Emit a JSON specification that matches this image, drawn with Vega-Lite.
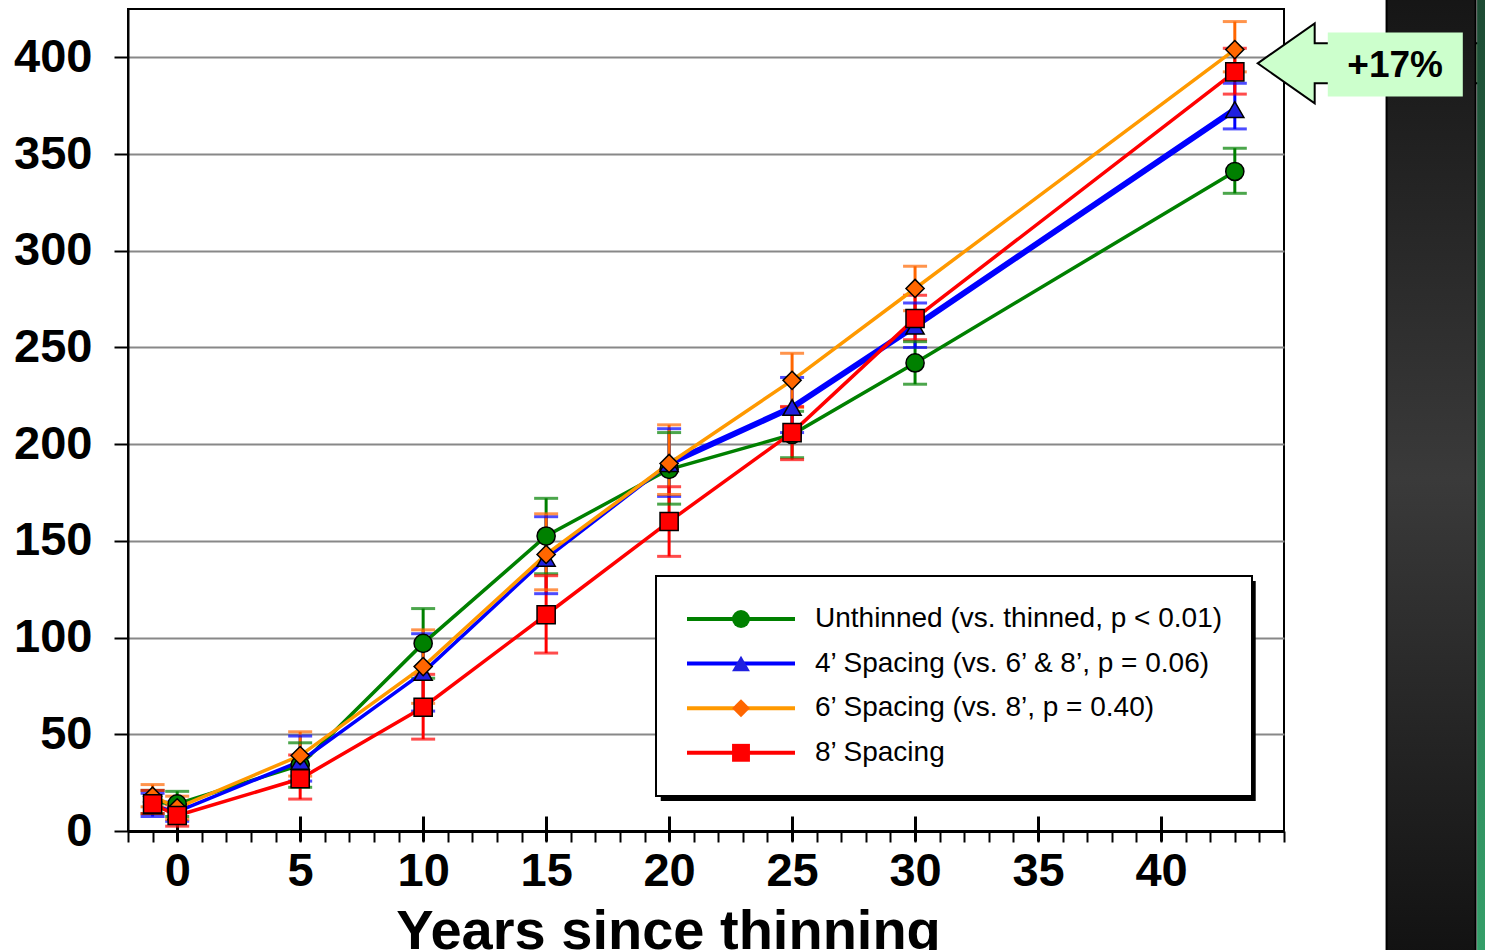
{
  "$schema": "https://vega.github.io/schema/vega-lite/v6.json",
  "width": 1156,
  "height": 822,
  "autosize": {"type": "none"},
  "padding": {"left": 128, "top": 9, "right": 201, "bottom": 119},
  "background": "white",
  "config": {
    "font": "Liberation Sans",
    "view": {"stroke": "black", "strokeWidth": 2},
    "axis": {"labelFont": "Liberation Sans", "titleFont": "Liberation Sans"},
    "legend": {"labelFont": "Liberation Sans"}
  },
  "datasets": {
    "growth": [
      {"series": "Unthinned (vs. thinned, p < 0.01)", "Year": -1, "value": 15, "lo": 9, "hi": 21},
      {"series": "Unthinned (vs. thinned, p < 0.01)", "Year": 0, "value": 14, "lo": 7.5, "hi": 20.5},
      {"series": "Unthinned (vs. thinned, p < 0.01)", "Year": 5, "value": 34, "lo": 22.6, "hi": 45.6},
      {"series": "Unthinned (vs. thinned, p < 0.01)", "Year": 10, "value": 97, "lo": 79, "hi": 115},
      {"series": "Unthinned (vs. thinned, p < 0.01)", "Year": 15, "value": 152.5, "lo": 133, "hi": 172},
      {"series": "Unthinned (vs. thinned, p < 0.01)", "Year": 20, "value": 187, "lo": 169, "hi": 206},
      {"series": "Unthinned (vs. thinned, p < 0.01)", "Year": 25, "value": 205, "lo": 193, "hi": 217},
      {"series": "Unthinned (vs. thinned, p < 0.01)", "Year": 30, "value": 242, "lo": 231, "hi": 253},
      {"series": "Unthinned (vs. thinned, p < 0.01)", "Year": 43, "value": 341, "lo": 329.7, "hi": 353},
      {"series": "4’ Spacing (vs. 6’ & 8’, p = 0.06)", "Year": -1, "value": 13, "lo": 7.5, "hi": 19.5},
      {"series": "4’ Spacing (vs. 6’ & 8’, p = 0.06)", "Year": 0, "value": 10, "lo": 5, "hi": 15},
      {"series": "4’ Spacing (vs. 6’ & 8’, p = 0.06)", "Year": 5, "value": 36, "lo": 25.8, "hi": 49.1},
      {"series": "4’ Spacing (vs. 6’ & 8’, p = 0.06)", "Year": 10, "value": 82, "lo": 62, "hi": 102},
      {"series": "4’ Spacing (vs. 6’ & 8’, p = 0.06)", "Year": 15, "value": 141, "lo": 122.7, "hi": 162.5},
      {"series": "4’ Spacing (vs. 6’ & 8’, p = 0.06)", "Year": 20, "value": 190, "lo": 173, "hi": 208},
      {"series": "4’ Spacing (vs. 6’ & 8’, p = 0.06)", "Year": 25, "value": 219, "lo": 206, "hi": 234.5},
      {"series": "4’ Spacing (vs. 6’ & 8’, p = 0.06)", "Year": 30, "value": 261, "lo": 250, "hi": 273},
      {"series": "4’ Spacing (vs. 6’ & 8’, p = 0.06)", "Year": 43, "value": 373, "lo": 363, "hi": 386.6},
      {"series": "6’ Spacing (vs. 8’, p = 0.40)", "Year": -1, "value": 18, "lo": 12.5, "hi": 24},
      {"series": "6’ Spacing (vs. 8’, p = 0.40)", "Year": 0, "value": 12, "lo": 6, "hi": 18},
      {"series": "6’ Spacing (vs. 8’, p = 0.40)", "Year": 5, "value": 39, "lo": 28.4, "hi": 51.3},
      {"series": "6’ Spacing (vs. 8’, p = 0.40)", "Year": 10, "value": 85, "lo": 66, "hi": 104},
      {"series": "6’ Spacing (vs. 8’, p = 0.40)", "Year": 15, "value": 143, "lo": 124.7, "hi": 164},
      {"series": "6’ Spacing (vs. 8’, p = 0.40)", "Year": 20, "value": 190, "lo": 174, "hi": 210},
      {"series": "6’ Spacing (vs. 8’, p = 0.40)", "Year": 25, "value": 233, "lo": 219, "hi": 247},
      {"series": "6’ Spacing (vs. 8’, p = 0.40)", "Year": 30, "value": 280.5, "lo": 269, "hi": 292},
      {"series": "6’ Spacing (vs. 8’, p = 0.40)", "Year": 43, "value": 404, "lo": 392.5, "hi": 418.5},
      {"series": "8’ Spacing", "Year": -1, "value": 14, "lo": 9, "hi": 21},
      {"series": "8’ Spacing", "Year": 0, "value": 8, "lo": 2.5, "hi": 13.5},
      {"series": "8’ Spacing", "Year": 5, "value": 27, "lo": 16.5, "hi": 39.3},
      {"series": "8’ Spacing", "Year": 10, "value": 64, "lo": 47.5, "hi": 81},
      {"series": "8’ Spacing", "Year": 15, "value": 111.8, "lo": 92, "hi": 132},
      {"series": "8’ Spacing", "Year": 20, "value": 160, "lo": 142, "hi": 178},
      {"series": "8’ Spacing", "Year": 25, "value": 206, "lo": 192, "hi": 219.5},
      {"series": "8’ Spacing", "Year": 30, "value": 265, "lo": 254, "hi": 277},
      {"series": "8’ Spacing", "Year": 43, "value": 392.5, "lo": 381, "hi": 404.7}
    ]
  },
  "data": {"name": "growth"},
  "layer": [
    {
      "data": {"values": [{}]},
      "mark": {"type": "rect", "fill": "black"},
      "encoding": {
        "x": {"datum": 19.66, "type": "quantitative", "scale": {"domain": [-2, 45], "nice": false, "zero": false}, "axis": null},
        "x2": {"datum": 43.85},
        "y": {"datum": 129.26, "type": "quantitative", "scale": {"domain": [0, 425], "nice": false, "zero": false},
          "axis": {"orient": "left", "values": [0, 50, 100, 150, 200, 250, 300, 350, 400], "grid": true, "gridColor": "#888888", "gridWidth": 2, "domain": true, "domainColor": "black", "domainWidth": 2, "ticks": true, "tickSize": 14, "tickWidth": 2, "tickColor": "black", "labelFontSize": 47, "labelFontWeight": "bold", "labelColor": "black", "labelPadding": 22, "labelFlush": false, "labelOverlap": false, "title": null}},
        "y2": {"datum": 15.5}
      }
    },
    {
      "mark": {"type": "rule", "strokeWidth": 3},
      "encoding": {
        "x": {"field": "Year", "type": "quantitative", "scale": {"domain": [-2, 45], "nice": false, "zero": false}, "axis": null},
        "y": {"field": "lo", "type": "quantitative", "scale": {"domain": [0, 425], "nice": false, "zero": false}, "axis": null},
        "y2": {"field": "hi"},
        "color": {"field": "series", "type": "nominal",
          "scale": {"domain": ["Unthinned (vs. thinned, p < 0.01)", "4’ Spacing (vs. 6’ & 8’, p = 0.06)", "6’ Spacing (vs. 8’, p = 0.40)", "8’ Spacing"], "range": ["#008000", "#0000FF", "#FF6600", "#FF0000"]},
          "legend": null}
      }
    },
    {
      "mark": {"type": "tick", "orient": "horizontal", "size": 24, "thickness": 3},
      "encoding": {
        "x": {"field": "Year", "type": "quantitative", "scale": {"domain": [-2, 45], "nice": false, "zero": false}, "axis": null},
        "y": {"field": "lo", "type": "quantitative", "scale": {"domain": [0, 425], "nice": false, "zero": false}, "axis": null},
        "color": {"field": "series", "type": "nominal", "legend": null}
      }
    },
    {
      "mark": {"type": "tick", "orient": "horizontal", "size": 24, "thickness": 3},
      "encoding": {
        "x": {"field": "Year", "type": "quantitative", "scale": {"domain": [-2, 45], "nice": false, "zero": false}, "axis": null},
        "y": {"field": "hi", "type": "quantitative", "scale": {"domain": [0, 425], "nice": false, "zero": false}, "axis": null},
        "color": {"field": "series", "type": "nominal", "legend": null}
      }
    },
    {
      "transform": [{"filter": {"field": "series", "oneOf": ["Unthinned (vs. thinned, p < 0.01)", "4’ Spacing (vs. 6’ & 8’, p = 0.06)"]}}],
      "mark": {"type": "line", "strokeWidth": 3.5},
      "encoding": {
        "x": {"field": "Year", "type": "quantitative", "scale": {"domain": [-2, 45], "nice": false, "zero": false},
          "axis": {"orient": "bottom", "values": [-2, -1, 0, 1, 2, 3, 4, 5, 6, 7, 8, 9, 10, 11, 12, 13, 14, 15, 16, 17, 18, 19, 20, 21, 22, 23, 24, 25, 26, 27, 28, 29, 30, 31, 32, 33, 34, 35, 36, 37, 38, 39, 40, 41, 42, 43, 44, 45], "tickSize": 11, "tickWidth": 2, "tickColor": "black", "labels": false, "domain": true, "domainColor": "black", "domainWidth": 3, "grid": false, "title": null}},
        "y": {"field": "value", "type": "quantitative", "scale": {"domain": [0, 425], "nice": false, "zero": false}, "axis": null},
        "stroke": {"field": "series", "type": "nominal",
          "scale": {"domain": ["Unthinned (vs. thinned, p < 0.01)", "4’ Spacing (vs. 6’ & 8’, p = 0.06)", "6’ Spacing (vs. 8’, p = 0.40)", "8’ Spacing"], "range": ["#008000", "#0000FF", "#FF9900", "#FF0000"]},
          "legend": {"orient": "none", "legendX": 528, "legendY": 567, "title": null, "padding": 29, "symbolType": "stroke", "symbolSize": 11664, "symbolStrokeWidth": 4, "labelFontSize": 28, "labelColor": "black", "labelOffset": 18, "labelLimit": 800, "rowPadding": 16.6, "fillColor": "white", "strokeColor": "black",
            "encode": {"legend": {"update": {"strokeWidth": {"value": 2}}}, "symbols": {"update": {"y": {"value": 14}}}, "labels": {"update": {"y": {"value": 14}}}}}}
      }
    },
    {
      "transform": [{"filter": {"field": "series", "equal": "4’ Spacing (vs. 6’ & 8’, p = 0.06)"}}, {"filter": "datum.Year >= 20"}],
      "mark": {"type": "line", "strokeWidth": 6, "color": "#0000FF"},
      "encoding": {
        "x": {"field": "Year", "type": "quantitative", "scale": {"domain": [-2, 45], "nice": false, "zero": false},
          "axis": {"orient": "bottom", "values": [0, 5, 10, 15, 20, 25, 30, 35, 40], "offset": -15, "tickSize": 25, "tickWidth": 3, "tickColor": "black", "labels": false, "domain": false, "grid": false, "title": null}},
        "y": {"field": "value", "type": "quantitative", "scale": {"domain": [0, 425], "nice": false, "zero": false}, "axis": null}
      }
    },
    {
      "transform": [{"filter": {"field": "series", "oneOf": ["6’ Spacing (vs. 8’, p = 0.40)", "8’ Spacing"]}}],
      "mark": {"type": "line", "strokeWidth": 3.5},
      "encoding": {
        "x": {"field": "Year", "type": "quantitative", "scale": {"domain": [-2, 45], "nice": false, "zero": false},
          "axis": {"orient": "bottom", "values": [0, 5, 10, 15, 20, 25, 30, 35, 40], "ticks": false, "tickSize": 0, "domain": false, "grid": false, "labelFontSize": 47, "labelFontWeight": "bold", "labelColor": "black", "labelPadding": 17, "labelFlush": false, "labelOverlap": false, "title": "Years since thinning", "titleFontSize": 56, "titleFontWeight": "bold", "titleColor": "black", "titleX": 540, "titleY": 73, "titleBaseline": "top"}},
        "y": {"field": "value", "type": "quantitative", "scale": {"domain": [0, 425], "nice": false, "zero": false}, "axis": null},
        "stroke": {"field": "series", "type": "nominal", "legend": null}
      }
    },
    {
      "mark": {"type": "point", "filled": true, "stroke": "black", "strokeWidth": 1.5, "opacity": 1, "size": 330},
      "encoding": {
        "x": {"field": "Year", "type": "quantitative", "scale": {"domain": [-2, 45], "nice": false, "zero": false}, "axis": null},
        "y": {"field": "value", "type": "quantitative", "scale": {"domain": [0, 425], "nice": false, "zero": false}, "axis": null},
        "fill": {"field": "series", "type": "nominal",
          "scale": {"domain": ["Unthinned (vs. thinned, p < 0.01)", "4’ Spacing (vs. 6’ & 8’, p = 0.06)", "6’ Spacing (vs. 8’, p = 0.40)", "8’ Spacing"], "range": ["#008000", "#2020E0", "#FF6600", "#FF0000"]},
          "legend": {"orient": "none", "legendX": 570, "legendY": 567, "title": null, "padding": 29, "symbolSize": 320, "symbolStrokeWidth": 1.5, "symbolStrokeColor": "black", "labelFontSize": 28, "labelExpr": "' '", "labelOffset": 18, "labelLimit": 800, "rowPadding": 16.6,
            "encode": {"symbols": {"update": {"y": {"value": 14}}}, "labels": {"update": {"y": {"value": 14}}}}}},
        "shape": {"field": "series", "type": "nominal",
          "scale": {"domain": ["Unthinned (vs. thinned, p < 0.01)", "4’ Spacing (vs. 6’ & 8’, p = 0.06)", "6’ Spacing (vs. 8’, p = 0.40)", "8’ Spacing"], "range": ["circle", "triangle-up", "diamond", "square"]},
          "legend": {"orient": "none", "legendX": 570, "legendY": 567, "title": null, "padding": 29, "symbolSize": 320, "symbolStrokeWidth": 1.5, "symbolStrokeColor": "black", "labelFontSize": 28, "labelExpr": "' '", "labelOffset": 18, "labelLimit": 800, "rowPadding": 16.6,
            "encode": {"symbols": {"update": {"y": {"value": 14}}}, "labels": {"update": {"y": {"value": 14}}}}}}
      }
    },
    {
      "data": {"values": [{}]},
      "mark": {"type": "point", "shape": "M0,0 L57,-40 L57,-20 L226,-20 L226,20 L57,20 L57,40 Z", "size": 4, "filled": true, "fill": "#CCFFCC", "stroke": "black", "strokeWidth": 2, "opacity": 1},
      "encoding": {
        "x": {"datum": 43.93, "type": "quantitative", "scale": {"domain": [-2, 45], "nice": false, "zero": false}, "axis": null},
        "y": {"datum": 396.9, "type": "quantitative", "scale": {"domain": [0, 425], "nice": false, "zero": false}, "axis": null}
      }
    },
    {
      "data": {"values": [{}]},
      "mark": {"type": "rect", "stroke": "black", "strokeWidth": 2,
        "fill": {"gradient": "linear", "x1": 0, "y1": 0, "x2": 0, "y2": 1, "stops": [{"offset": 0, "color": "#151515"}, {"offset": 0.5, "color": "#3a3a3a"}, {"offset": 1, "color": "#111111"}]}},
      "encoding": {
        "x": {"datum": 49.17, "type": "quantitative", "scale": {"domain": [-2, 45], "nice": false, "zero": false}, "axis": null},
        "x2": {"datum": 52.79},
        "y": {"datum": 435, "type": "quantitative", "scale": {"domain": [0, 425], "nice": false, "zero": false}, "axis": null},
        "y2": {"datum": -70}
      }
    },
    {
      "data": {"values": [{}]},
      "mark": {"type": "rect",
        "fill": {"gradient": "linear", "x1": 0, "y1": 0, "x2": 0, "y2": 1, "stops": [{"offset": 0, "color": "#1d4a33"}, {"offset": 0.5, "color": "#2a7a52"}, {"offset": 1, "color": "#35a06a"}]}},
      "encoding": {
        "x": {"datum": 52.85, "type": "quantitative", "scale": {"domain": [-2, 45], "nice": false, "zero": false}, "axis": null},
        "x2": {"datum": 54},
        "y": {"datum": 435, "type": "quantitative", "scale": {"domain": [0, 425], "nice": false, "zero": false}, "axis": null},
        "y2": {"datum": -70}
      }
    },
    {
      "data": {"values": [{}]},
      "mark": {"type": "rect", "fill": "#CCFFCC"},
      "encoding": {
        "x": {"datum": 46.78, "type": "quantitative", "scale": {"domain": [-2, 45], "nice": false, "zero": false}, "axis": null},
        "x2": {"datum": 52.27},
        "y": {"datum": 412.9, "type": "quantitative", "scale": {"domain": [0, 425], "nice": false, "zero": false}, "axis": null},
        "y2": {"datum": 379.8}
      }
    },
    {
      "data": {"values": [{}]},
      "mark": {"type": "text", "text": "+17%", "font": "Liberation Sans", "fontWeight": "bold", "fontSize": 37, "align": "center", "baseline": "middle", "color": "black"},
      "encoding": {
        "x": {"datum": 49.52, "type": "quantitative", "scale": {"domain": [-2, 45], "nice": false, "zero": false}, "axis": null},
        "y": {"datum": 395.3, "type": "quantitative", "scale": {"domain": [0, 425], "nice": false, "zero": false}, "axis": null}
      }
    }
  ],
  "resolve": {
    "axis": {"x": "independent", "y": "independent"},
    "legend": {"color": "independent", "stroke": "independent", "fill": "independent", "shape": "independent"}
  }
}
